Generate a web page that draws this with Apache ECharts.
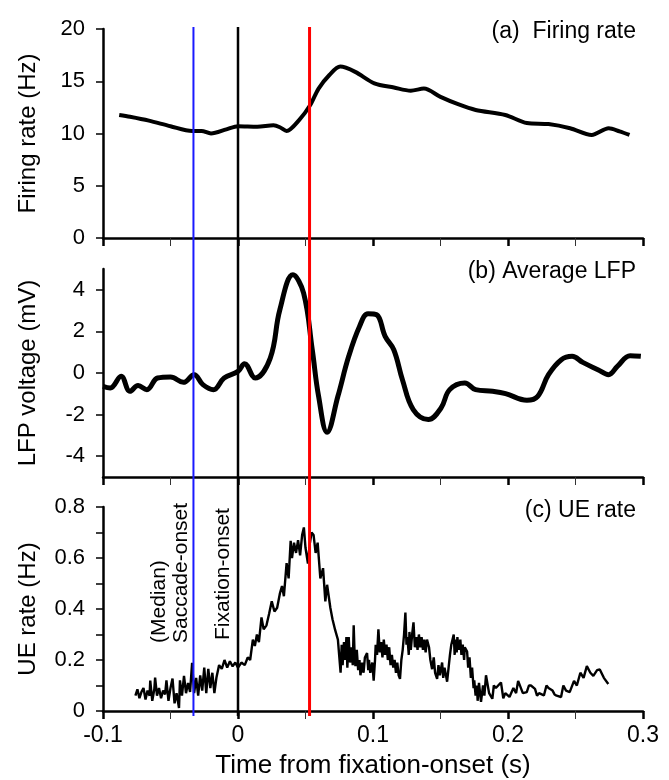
<!DOCTYPE html>
<html>
<head>
<meta charset="utf-8">
<script src="https://cdn.jsdelivr.net/npm/echarts@6/dist/echarts.min.js"></script>
<style>
  html, body { margin: 0; padding: 0; background: #fff; }
  #chart { width: 669px; height: 780px; }
</style>
</head>
<body>
<div id="chart"></div>
<script>
// (a) firing rate
var firingT  = [-0.088,-0.080,-0.066,-0.050,-0.034,-0.027,-0.020,-0.0086,0,0.0143,0.0263,0.031,0.036,0.0454,0.0534,0.0597,0.0677,0.0757,0.0868,0.101,0.1155,0.128,0.1377,0.150,0.163,0.176,0.198,0.214,0.230,0.246,0.262,0.2746,0.2826,0.290];
var firingHz = [11.77,11.6,11.23,10.7,10.24,10.25,10.0,10.4,10.7,10.65,10.78,10.6,10.24,11.3,12.7,14.3,15.6,16.4,15.9,14.8,14.4,14.1,14.3,13.5,12.8,12.25,11.77,11.0,10.9,10.5,9.86,10.5,10.2,9.86];

// (b) average LFP
var lfpT  = [-0.1,-0.0946,-0.0866,-0.080,-0.074,-0.0675,-0.0596,-0.050,-0.0405,-0.0325,-0.026,-0.0182,-0.0103,0,0.0048,0.0127,0.0239,0.031,0.0407,0.0486,0.055,0.0597,0.066,0.074,0.082,0.090,0.0963,0.1027,0.109,0.1154,0.1218,0.1298,0.141,0.1504,0.1568,0.168,0.176,0.1886,0.1982,0.214,0.222,0.230,0.2395,0.2475,0.2554,0.2666,0.2745,0.281,0.2905,0.2984];
var lfpMV = [-0.64,-0.72,-0.16,-0.88,-0.6,-0.8,-0.24,-0.19,-0.45,-0.08,-0.56,-0.8,-0.24,0.08,0.45,-0.24,0.72,3.04,4.72,3.84,1.12,-1.12,-2.85,-1.12,0.8,2.24,2.85,2.8,1.76,1.12,-0.32,-1.76,-2.24,-1.68,-0.8,-0.48,-0.8,-0.88,-0.99,-1.31,-1.12,-0.08,0.64,0.8,0.51,0.16,-0.08,0.32,0.83,0.8];

// (c) UE rate, [time, Hz]
var ueRate = [
  [-0.076,0.06],[-0.0745,0.085],[-0.073,0.05],[-0.0715,0.075],[-0.070,0.09],[-0.0685,0.045],[-0.067,0.08],[-0.0655,0.06],
  [-0.065,0.119],[-0.0635,0.04],[-0.062,0.085],[-0.0614,0.131],[-0.060,0.06],[-0.0585,0.09],[-0.057,0.05],[-0.0555,0.08],
  [-0.054,0.065],[-0.053,0.12],[-0.0515,0.04],[-0.050,0.09],[-0.0485,0.127],[-0.047,0.03],[-0.0455,0.07],[-0.0437,0.012],
  [-0.043,0.12],[-0.0415,0.06],[-0.040,0.138],[-0.0385,0.07],[-0.037,0.11],[-0.0355,0.075],[-0.034,0.189],[-0.0325,0.07],
  [-0.031,0.13],[-0.0295,0.06],[-0.028,0.14],[-0.0265,0.08],[-0.025,0.17],[-0.0235,0.07],[-0.022,0.165],[-0.0205,0.09],
  [-0.019,0.15],[-0.0175,0.07],[-0.016,0.13],[-0.014,0.18],[-0.012,0.165],[-0.010,0.2],[-0.008,0.17],[-0.006,0.195],
  [-0.004,0.175],[-0.002,0.19],[0,0.17],[0.0025,0.19],[0.005,0.18],[0.0072,0.21],[0.009,0.2],[0.011,0.28],
  [0.0125,0.255],[0.014,0.3],[0.0155,0.27],[0.0174,0.367],[0.019,0.32],[0.0211,0.336],[0.023,0.38],[0.025,0.43],
  [0.027,0.39],[0.029,0.405],[0.031,0.46],[0.0326,0.49],[0.034,0.45],[0.036,0.58],[0.0375,0.52],[0.039,0.667],
  [0.040,0.60],[0.0415,0.66],[0.043,0.62],[0.0445,0.67],[0.046,0.61],[0.0475,0.69],[0.0488,0.72],[0.050,0.64],
  [0.0518,0.578],[0.053,0.65],[0.0545,0.70],[0.056,0.69],[0.0575,0.62],[0.059,0.66],[0.061,0.52],[0.063,0.56],
  [0.0647,0.43],[0.066,0.495],[0.0684,0.405],[0.070,0.36],[0.072,0.317],[0.074,0.28],
  [0.076,0.15],[0.0768,0.26],[0.0775,0.18],[0.0785,0.27],[0.0795,0.2],[0.0803,0.29],[0.081,0.17],[0.082,0.29],
  [0.083,0.19],[0.084,0.25],[0.085,0.18],[0.0857,0.336],[0.0865,0.2],[0.087,0.176],[0.088,0.24],[0.089,0.16],
  [0.090,0.2],[0.0907,0.14],[0.092,0.19],[0.093,0.15],[0.094,0.21],[0.0956,0.227],[0.0965,0.16],[0.097,0.2],
  [0.098,0.15],[0.0995,0.19],[0.1005,0.119],[0.1015,0.2],[0.102,0.26],[0.103,0.22],[0.104,0.32],[0.105,0.23],
  [0.106,0.27],[0.107,0.21],[0.108,0.28],[0.109,0.22],[0.110,0.26],[0.111,0.2],[0.112,0.25],[0.113,0.18],
  [0.114,0.22],[0.115,0.17],[0.116,0.2],[0.117,0.15],[0.118,0.19],[0.119,0.14],[0.120,0.126],[0.121,0.2],
  [0.122,0.24],[0.123,0.3],[0.124,0.386],[0.1248,0.26],[0.1255,0.29],[0.1265,0.22],[0.127,0.31],[0.128,0.24],
  [0.129,0.3],[0.130,0.348],[0.131,0.25],[0.132,0.29],[0.133,0.24],[0.134,0.3],[0.135,0.25],[0.136,0.29],
  [0.137,0.24],[0.138,0.28],[0.139,0.23],[0.140,0.28],[0.1415,0.25],[0.1425,0.2],[0.1438,0.164],[0.145,0.21],
  [0.146,0.15],[0.1475,0.126],[0.1485,0.18],[0.1495,0.14],[0.1512,0.19],[0.152,0.13],[0.153,0.17],[0.1549,0.115],
  [0.156,0.17],[0.157,0.22],[0.158,0.26],[0.1598,0.30],[0.1605,0.22],[0.161,0.28],[0.162,0.23],[0.1625,0.29],
  [0.1635,0.24],[0.1647,0.28],[0.1655,0.22],[0.1665,0.26],[0.1675,0.2],[0.168,0.25],[0.1697,0.233],[0.1705,0.17],
  [0.1715,0.21],[0.1725,0.13],[0.1734,0.17],[0.1745,0.09],[0.175,0.12],[0.176,0.06],[0.177,0.1],[0.1775,0.04],
  [0.1785,0.11],[0.180,0.036],[0.1815,0.1],[0.1825,0.06],[0.1837,0.14],[0.186,0.07],[0.1884,0.048],[0.1895,0.1],
  [0.191,0.09],[0.1948,0.112],[0.1965,0.05],[0.198,0.07],[0.2011,0.055],[0.204,0.09],[0.206,0.07],[0.2075,0.118],
  [0.211,0.07],[0.2139,0.074],[0.2155,0.1],[0.217,0.1],[0.220,0.087],[0.2215,0.06],[0.223,0.07],[0.2266,0.061],
  [0.2285,0.1],[0.230,0.09],[0.233,0.08],[0.2345,0.065],[0.236,0.06],[0.2393,0.055],[0.241,0.1],[0.243,0.08],
  [0.2457,0.074],[0.2489,0.118],[0.251,0.1],[0.2536,0.15],[0.256,0.13],[0.2584,0.176],[0.261,0.15],[0.2632,0.138],
  [0.266,0.16],[0.268,0.163],[0.271,0.13],[0.2743,0.106]
];

// event markers: saccade-onset, fixation-onset, red line
var eventT      = [-0.033, 0, 0.053];
var eventColors = ['#1a1aff', '#000000', '#ff0000'];
var eventWidths = [2, 2.5, 3];

// y ticks / labels
var aTicks   = [0,5,10,15,20];
var bTicks   = [-4,-2,0,2,4];
var cTicks   = [0,0.1,0.2,0.3,0.4,0.5,0.6,0.7,0.8];
var cLabels  = [0,0.2,0.4,0.6,0.8];

function zip(a, b) {
  return a.map(function (v, i) { return [v, b[i]]; });
}

var font = 'Liberation Sans, Arial, sans-serif';
var axisLine = { onZero: false, lineStyle: { color: '#000', width: 2.5 } };

function xAxisFor(idx, showLabels) {
  return {
    type: 'value', gridIndex: idx, min: -0.1, max: 0.3, interval: 0.1,
    axisLine: axisLine,
    axisTick: { show: true, length: 8, lineStyle: { color: '#000', width: 2.5 } },
    minorTick: { show: true, splitNumber: 2, length: 8, lineStyle: { color: '#333', width: 1 } },
    axisLabel: { show: showLabels, color: '#000', fontSize: 23, fontFamily: font, margin: 13 },
    splitLine: { show: false },
    minorSplitLine: { show: false },
    name: showLabels ? 'Time from fixation-onset (s)' : '',
    nameLocation: 'middle', nameGap: 42,
    nameTextStyle: { color: '#000', fontSize: 26, fontFamily: font }
  };
}

function yAxisFor(idx, min, max, ticks, labels, name) {
  return {
    type: 'value', gridIndex: idx, min: min, max: max,
    axisLine: axisLine,
    axisTick: { show: true, length: 7, customValues: ticks, lineStyle: { color: '#000', width: 1.5 } },
    axisLabel: { customValues: labels, color: '#000', fontSize: 22, fontFamily: font, margin: 18 },
    splitLine: { show: false },
    name: name, nameLocation: 'middle', nameGap: 63,
    nameTextStyle: { color: '#000', fontSize: 24, fontFamily: font }
  };
}

var chart = echarts.init(document.getElementById('chart'));

var series = [
  { type: 'line', xAxisIndex: 0, yAxisIndex: 0, data: zip(firingT, firingHz), showSymbol: false, smooth: 0.3,
    lineStyle: { color: '#000', width: 4 }, z: 3 },
  { type: 'line', xAxisIndex: 1, yAxisIndex: 1, data: zip(lfpT, lfpMV), showSymbol: false, smooth: 0.4,
    lineStyle: { color: '#000', width: 5 }, z: 3 },
  { type: 'line', xAxisIndex: 2, yAxisIndex: 2, data: ueRate, showSymbol: false,
    lineStyle: { color: '#000', width: 2.4 }, z: 3 }
];
eventT.forEach(function (t, i) {
  series.push({
    type: 'line', xAxisIndex: 3, yAxisIndex: 3, data: [[t, 0], [t, 1]], showSymbol: false,
    lineStyle: { color: eventColors[i], width: eventWidths[i] }, z: 5, silent: true
  });
});

var option = {
  backgroundColor: '#fff',
  animation: false,
  title: [
    { text: '(a)  Firing rate', right: 33, top: 20 },
    { text: '(b) Average LFP', right: 33, top: 260 },
    { text: '(c) UE rate', right: 33, top: 499 }
  ].map(function (t) {
    t.padding = 0;
    t.textStyle = { color: '#000', fontSize: 23, fontWeight: 'normal', fontFamily: font };
    return t;
  }),
  grid: [
    { left: 103, right: 26, top: 29, height: 209 },
    { left: 103, right: 26, top: 269, height: 208 },
    { left: 103, right: 26, top: 507, height: 209 },
    { left: 103, right: 26, top: 27, height: 689 }
  ],
  xAxis: [
    xAxisFor(0, false),
    xAxisFor(1, false),
    xAxisFor(2, true),
    { type: 'value', gridIndex: 3, min: -0.1, max: 0.3, show: false }
  ],
  yAxis: [
    yAxisFor(0, 0, 20, aTicks, aTicks, 'Firing rate (Hz)'),
    yAxisFor(1, -5, 5, bTicks, bTicks, 'LFP voltage (mV)'),
    yAxisFor(2, 0, 0.8, cTicks, cLabels, 'UE rate (Hz)'),
    { type: 'value', gridIndex: 3, min: 0, max: 1, show: false }
  ],
  series: series,
  graphic: [
    { type: 'text', x: 159, y: 643, rotation: Math.PI / 2,
      style: { text: '(Median)', fill: '#000', fontSize: 21, fontFamily: font, textAlign: 'left', textVerticalAlign: 'middle' } },
    { type: 'text', x: 181, y: 643, rotation: Math.PI / 2,
      style: { text: 'Saccade-onset', fill: '#000', fontSize: 21, fontFamily: font, textAlign: 'left', textVerticalAlign: 'middle' } },
    { type: 'text', x: 223, y: 640, rotation: Math.PI / 2,
      style: { text: 'Fixation-onset', fill: '#000', fontSize: 21, fontFamily: font, textAlign: 'left', textVerticalAlign: 'middle' } }
  ]
};

chart.setOption(option);
</script>
</body>
</html>
